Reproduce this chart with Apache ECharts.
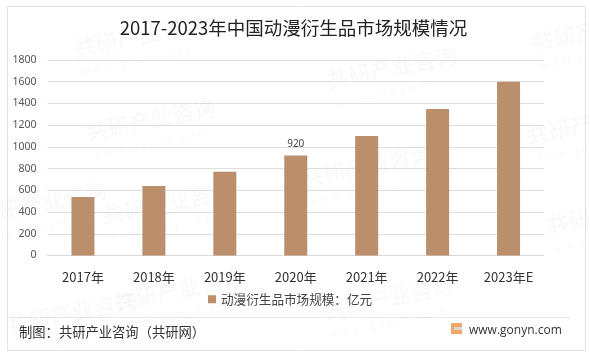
<!DOCTYPE html>
<html><head><meta charset="utf-8">
<style>html,body{margin:0;padding:0;background:#fff}#c{width:590px;height:355px}</style>
<script src="https://cdn.jsdelivr.net/npm/echarts@6/dist/echarts.min.js"></script>
</head><body><div id="c"></div>
<script>
const categories = ['2017年','2018年','2019年','2020年','2021年','2022年','2023年E'];
const marketSize = [538,640,770,920,1100,1350,1600];
const seriesName = '动漫衍生品市场规模：亿元';
const titleText = '2017-2023年中国动漫衍生品市场规模情况';
const font = '"Noto Sans CJK SC","Noto Sans",sans-serif';
const wmSpots = [[72,38],[84,122],[100,205],[112,292],[325,70],[300,168],[322,300],[530,32],[525,125],[545,215],[-25,205],[5,315]];
const wm = [];
wmSpots.forEach(([x,y])=>{
  wm.push({type:'text',x,y,rotation:0.2,z:-1,silent:true,style:{text:'共研产业咨询',font:'bold 22px '+font,fill:'rgba(120,120,120,0.04)'}});
  wm.push({type:'text',x:x+8,y:y+28,rotation:0.2,z:-1,silent:true,style:{text:'w w w . g o n y n . c o m',font:'11px '+font,fill:'rgba(120,120,120,0.04)'}});
});
const chart = echarts.init(document.getElementById('c'));
chart.setOption({
  animation:false,
  backgroundColor:'#fff',
  title:{text:titleText,left:288.5,top:14,textAlign:'center',textStyle:{fontFamily:font,fontSize:18.5,fontWeight:'normal',color:'#222'}},
  grid:{left:47.5,right:46,top:60,bottom:99.5,containLabel:false},
  legend:{show:true,left:203,top:288,itemWidth:8,itemHeight:8,itemGap:3,icon:'rect',textStyle:{fontFamily:font,fontSize:12.6,color:'#444'},data:[seriesName]},
  xAxis:{type:'category',data:categories,axisLine:{lineStyle:{color:'#d9d9d9'}},axisTick:{show:false},
    axisLabel:{margin:15,fontFamily:font,fontSize:13,color:'#333'}},
  yAxis:{type:'value',min:0,max:1800,interval:200,axisLine:{show:false},axisTick:{show:false},
    splitLine:{lineStyle:{color:'#dedede'}},axisLabel:{margin:11,fontFamily:'"Noto Sans",sans-serif',fontSize:10.5,color:'#555',formatter:v=>String(v)}},
  series:[{name:seriesName,type:'bar',barWidth:23,data:marketSize.map((v,i)=>i===3?{value:v,label:{show:true,position:'top',distance:6,formatter:'{c}',fontFamily:'"Noto Sans",sans-serif',fontSize:10,color:'#444'}}:v),
    itemStyle:{color:'#bb8e6c'}}],
  graphic:[
    {type:'rect',z:-2,silent:true,shape:{x:7.5,y:6.5,width:578,height:344},style:{fill:'#fff',stroke:'#e2e2e2',lineWidth:1}},
    {type:'line',z:-1,silent:true,shape:{x1:8,y1:317.5,x2:570,y2:317.5},style:{stroke:'#e8e8e8',lineWidth:1}},
    ...wm,
    {type:'text',x:19,y:325,style:{text:'制图：共研产业咨询（共研网）',font:'13.3px '+font,fill:'#333'}},
    {type:'text',x:469,y:325,style:{text:'www.gonyn.com',font:'12px "Open Sans",sans-serif',fill:'#333'}},
    {type:'rect',silent:true,shape:{x:451,y:323,width:11,height:11},style:{fill:'#f0a868'}},
    {type:'rect',silent:true,shape:{x:454,y:327,width:8,height:3},style:{fill:'#d8d8d8'}}
  ]
});
</script></body></html>
